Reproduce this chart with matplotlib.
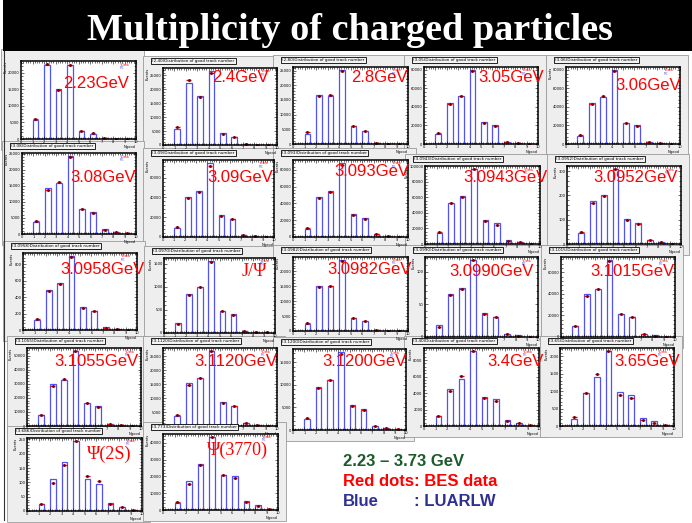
import numpy as np
import matplotlib.pyplot as plt
from matplotlib.patches import Rectangle
from matplotlib.ticker import MaxNLocator, AutoMinorLocator, MultipleLocator

W, H = 692, 523

# energy points (GeV) and panel labels
energies = ["2.23", "2.40", "2.80", "3.05", "3.06", "3.08", "3.09", "3.093", "3.0943", "3.0952",
            "3.0958", "3.0970", "3.0982", "3.0990", "3.1015", "3.1055", "3.1120", "3.1200",
            "3.40", "3.65", "3.686", "3.773"]
labels = ["2.23GeV", "2.4GeV", "2.8GeV", "3.05GeV", "3.06GeV",
          "3.08GeV", "3.09GeV", "3.093GeV", "3.0943GeV", "3.0952GeV",
          "3.0958GeV", "J/\u03a8", "3.0982GeV", "3.0990GeV", "3.1015GeV",
          "3.1055GeV", "3.1120GeV", "3.1200GeV", "3.4GeV", "3.65GeV",
          "\u03a8(2S)", "\u03a8(3770)"]

ngood = [1, 2, 3, 4, 5, 6, 7, 8, 9]

# blue histograms: LUARLW
lund = [
    [5800, 22300, 15200, 22300, 2400, 1650, 200, 80, 20],
    [5800, 22400, 17700, 26600, 4150, 3050, 300, 130, 50],
    [3450, 16700, 16200, 25200, 6100, 4500, 350, 160, 30],
    [10800, 44000, 51500, 80000, 24000, 20000, 2200, 1100, 200],
    [9100, 44000, 50600, 80000, 23200, 20000, 2200, 900, 200],
    [3800, 14300, 15800, 24200, 7650, 6900, 1500, 770, 130],
    [9400, 40600, 46800, 74900, 21800, 18700, 2300, 1000, 200],
    [10100, 47800, 54300, 88300, 27600, 22100, 3700, 1400, 280],
    [14000, 53000, 62000, 96600, 31000, 27000, 5500, 2500, 500],
    [45, 176, 202, 309, 102, 86, 17.6, 6.4, 1.5],
    [120, 488, 570, 900, 276, 230, 32, 12, 2],
    [210, 842, 988, 1563, 470, 405, 36, 16, 6],
    [2500, 15250, 15000, 23900, 4500, 3250, 250, 120, 30],
    [18.8, 66, 75, 117.5, 36, 31, 5, 2.5, 0.5],
    [9900, 40300, 44800, 71400, 21300, 19000, 3000, 1500, 300],
    [7800, 30000, 32800, 53200, 16400, 13900, 1700, 950, 200],
    [3400, 15500, 17100, 26800, 8400, 7200, 1100, 480, 100],
    [2500, 9600, 11200, 17300, 5600, 4700, 950, 540, 90],
    [1160, 4460, 5670, 9100, 3490, 3280, 680, 400, 50],
    [214, 945, 1395, 2153, 990, 900, 243, 135, 22],
    [26, 112, 170, 245, 113, 95, 28, 14.7, 2.5],
    [3900, 17200, 27300, 43500, 21100, 20100, 5500, 3100, 460],
]

# red dots: BES data
bes = [
    [6000, 22700, 14800, 22300, 2450, 1750, 180, 100, 40],
    [6400, 23300, 17400, 26000, 3900, 2800, 280, 150, 60],
    [4200, 16200, 16700, 24900, 6100, 4500, 300, 150, 40],
    [11600, 43200, 51500, 78800, 23200, 19100, 1700, 830, 250],
    [10000, 43200, 51500, 78800, 22400, 19100, 1700, 830, 250],
    [4100, 13800, 16100, 24000, 7650, 6600, 1300, 770, 250],
    [10100, 39800, 46000, 71800, 21000, 17900, 1950, 780, 250],
    [11000, 46900, 53400, 86000, 26700, 21200, 3300, 1200, 300],
    [15000, 52500, 61000, 96000, 30000, 25000, 4500, 2000, 600],
    [48, 170, 198, 307, 99, 83, 16, 6.4, 2],
    [129, 478, 561, 888, 267, 230, 28, 9, 3],
    [195, 826, 988, 1547, 470, 397, 49, 21, 13],
    [2750, 14750, 15000, 23600, 4500, 3250, 250, 150, 50],
    [16, 64, 74, 117, 35, 30, 4.4, 1.9, 0.6],
    [9900, 38000, 44800, 71000, 20900, 18200, 2700, 1200, 400],
    [8100, 28400, 33400, 53000, 16200, 13600, 1400, 800, 300],
    [4050, 14600, 17200, 26700, 8300, 7000, 1000, 450, 150],
    [2700, 9400, 11000, 16900, 5400, 4500, 900, 450, 120],
    [1210, 4280, 6090, 9100, 3400, 3000, 560, 330, 90],
    [261, 945, 1494, 2153, 900, 810, 164, 97, 22],
    [25, 98, 160, 245, 121, 103, 26, 13.4, 2.5],
    [4500, 15600, 26900, 43200, 20700, 19100, 4500, 2500, 370],
]

# panel frames in pixels (x0, y0, x1, y1) and label centres
boxes = [
    (21, 61, 136, 139), (163, 68, 277, 145), (293, 67, 408, 144), (424, 67, 538, 144), (566, 67, 680, 144),
    (22, 153, 136, 234), (163, 160, 274, 237), (293, 160, 408, 237), (425, 166, 540, 244), (567, 166, 681, 244),
    (23, 253, 137, 330), (164, 258, 275, 333), (293, 257, 408, 331), (425, 257, 538, 337), (561, 257, 675, 337),
    (27, 348, 141, 426), (163, 348, 277, 426), (293, 349, 406, 430), (424, 348, 539, 426), (560, 348, 674, 426),
    (27, 438, 142, 511), (163, 434, 278, 510),
]
label_pos = [
    (96, 84), (240, 78), (379, 78), (511, 78), (648, 85),
    (103, 177), (240, 177), (372, 172), (505, 177), (636, 177),
    (102, 269), (254, 272), (369, 269), (491, 271), (632, 271),
    (96, 361), (236, 362), (364, 362), (516, 362), (647, 362),
    (109, 454), (237, 450),
]

fig = plt.figure(figsize=(W / 100, H / 100), dpi=100)
fig.patch.set_facecolor('white')


def px_rect(x0, y0, x1, y1):
    return [x0 / W, 1 - y1 / H, (x1 - x0) / W, (y1 - y0) / H]


for i in range(len(lund)):
    x0, y0, x1, y1 = boxes[i]
    # grey ROOT canvas behind each plot
    fig.patches.append(Rectangle(((x0 - 20) / W, 1 - (y1 + 11) / H), (x1 - x0 + 28) / W, (y1 - y0 + 23) / H,
                                 transform=fig.transFigure, facecolor='#eeeeee', edgecolor='#9a9a9a',
                                 lw=0.6, zorder=-1))
    ax = fig.add_axes(px_rect(x0, y0, x1, y1))
    ax.set_facecolor('white')
    x = np.array(ngood)
    ax.bar(x, lund[i], width=0.5, align='edge', facecolor='none', edgecolor='#5050ff', lw=0.9)
    ax.errorbar(x + 0.25, bes[i], xerr=0.2, fmt='o', ms=1.1, color='red', mfc='#7a0000', mec='#7a0000',
                elinewidth=1.0, capsize=0)
    ymax = max(max(lund[i]), max(bes[i]))
    ax.set_xlim(0, 10)
    ax.set_ylim(0, ymax * 1.04)
    ax.xaxis.set_major_locator(MultipleLocator(1))
    ax.xaxis.set_minor_locator(AutoMinorLocator(5))
    ax.yaxis.set_major_locator(MaxNLocator(nbins=6, steps=[1, 2, 5]))
    ax.yaxis.set_minor_locator(AutoMinorLocator(5))
    ax.tick_params(which='both', direction='in', top=True, right=True, width=0.4, labelsize=2.6, pad=1)
    ax.tick_params(which='major', length=2.2)
    ax.tick_params(which='minor', length=1.1)
    for s in ax.spines.values():
        s.set_linewidth(1.1)
    ax.set_xlabel("Ngood", fontsize=2.6, loc='right', labelpad=0.5)
    ax.set_ylabel("Events", fontsize=2.6, loc='top', labelpad=0.5)
    ax.text(0.86, 0.955, "+Data", transform=ax.transAxes, fontsize=2.2, color='red', va='center')
    ax.text(0.86, 0.915, "MC", transform=ax.transAxes, fontsize=2.2, color='#5050ff', va='center')
    # ROOT title box (the first one sits under the slide title bar)
    if i > 0:
        fig.text((x0 - 11) / W, 1 - (y0 - 7) / H, "(%s)Distribution of good track number" % energies[i],
                 fontsize=3.0, va='center', ha='left',
                 bbox=dict(boxstyle='square,pad=0.3', facecolor='#f4f4f4', edgecolor='black', lw=0.6))
    # energy label
    cx, cy = label_pos[i]
    if "\u03a8" in labels[i]:
        fig.text(cx / W, 1 - cy / H, labels[i], color='red', fontsize=13, ha='center', va='center',
                 family=['Liberation Serif', 'DejaVu Serif'], zorder=5)
    else:
        fig.text(cx / W, 1 - cy / H, labels[i], color='red', fontsize=12, ha='center', va='center',
                 family=['Liberation Sans', 'DejaVu Sans'], zorder=5)

# slide title bar
fig.patches.append(Rectangle((3 / W, 1 - 51 / H), (W - 3) / W, 51 / H, transform=fig.transFigure,
                             facecolor='black', edgecolor='none', zorder=10))
fig.text(350 / W, 1 - 31 / H, "Multiplicity of charged particles", color='white', fontsize=27.5,
         fontweight='bold', family=['Liberation Serif', 'DejaVu Serif'], ha='center', va='center', zorder=11)

# left border line
fig.lines.append(plt.Line2D([4 / W, 4 / W], [0.005, 1 - 51 / H], transform=fig.transFigure,
                            color='#333333', lw=0.8))

# notes
fs = dict(fontsize=12, fontweight='bold', family=['Liberation Sans', 'DejaVu Sans'], va='center', ha='left')
fig.text(343 / W, 1 - 462 / H, "2.23 \u2013 3.73 GeV", color='#1d5a2c', **fs)
fig.text(343 / W, 1 - 481 / H, "Red dots: BES data", color='#ff0000', **fs)
fig.text(343 / W, 1 - 501 / H, "Blue", color='#2e3192', **fs)
fig.text(414 / W, 1 - 501 / H, ": LUARLW", color='#2e3192', **fs)

fig.savefig("out.png", dpi=100)
